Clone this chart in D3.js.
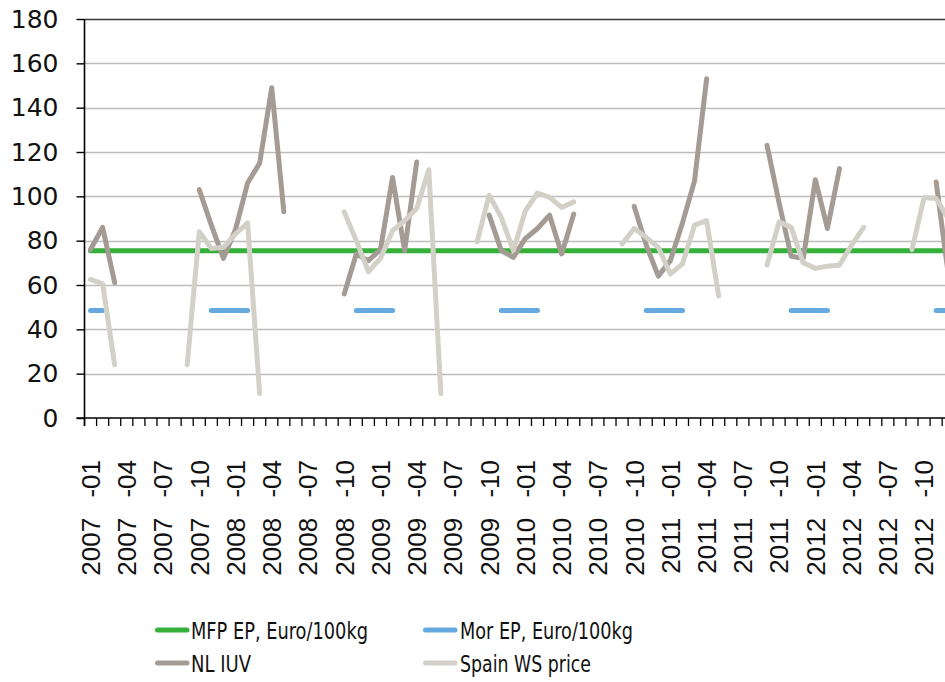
<!DOCTYPE html>
<html>
<head>
<meta charset="utf-8">
<script src="https://cdn.jsdelivr.net/npm/d3@7/dist/d3.min.js"></script>
<style>
  html, body { margin: 0; padding: 0; background: #fff; overflow: hidden; }
  svg { display: block; }
</style>
</head>
<body>
<div id="chart"></div>
<script>
// months 2007-01 .. 2012-12
var years = ['2007', '2008', '2009', '2010', '2011', '2012'];
var months = ['01', '02', '03', '04', '05', '06', '07', '08', '09', '10', '11', '12'];
var categories = [];
years.forEach(function (yr) {
  months.forEach(function (m) { categories.push(yr + '-' + m); });
});

var tickLabels = [
  '2007 -01', '2007 -04', '2007 -07', '2007 -10',
  '2008 -01', '2008 -04', '2008 -07', '2008 -10',
  '2009 -01', '2009 -04', '2009 -07', '2009 -10',
  '2010 -01', '2010 -04', '2010 -07', '2010 -10',
  '2011 -01', '2011 -04', '2011 -07', '2011 -10',
  '2012 -01', '2012 -04', '2012 -07', '2012 -10'
];

var yTicks = [0, 20, 40, 60, 80, 100, 120, 140, 160, 180];

// MFP EP is a flat reference level
var mfpEP = 75.5;

var _ = null;
var morEP = [
  48.5, 48.5, _, _, _, _, _, _, _, _, 48.5, 48.5,
  48.5, 48.5, _, _, _, _, _, _, _, _, 48.5, 48.5,
  48.5, 48.5, _, _, _, _, _, _, _, _, 48.5, 48.5,
  48.5, 48.5, _, _, _, _, _, _, _, _, 48.5, 48.5,
  48.5, 48.5, _, _, _, _, _, _, _, _, 48.5, 48.5,
  48.5, 48.5, _, _, _, _, _, _, _, _, 48.5, 48.5
];

var nlIUV = [
  76, 86, 61, _, _, _, _, _, _, 103, 87, 72,
  85, 106, 115, 149, 93, _, _, _, _, 56, 74, 71,
  76, 108.5, 75.5, 115.5, _, _, _, _, _, 91.5, 75.5, 72.5,
  81, 85.5, 91.5, 74, 92, _, _, _, _, 95.5, 78, 64,
  71, 88, 107, 153, _, _, _, _, 123, 97, 73, 72,
  107.5, 85.5, 112.5, _, _, _, _, _, _, _, 106.5, 65
];

var spainWS = [
  62.5, 60.5, 24, _, _, _, _, _, 24, 84, 76.5, 77,
  83, 88, 11, _, _, _, _, _, _, 93, 80, 66,
  72, 84.5, 89, 94.5, 112, 11, _, _, 79.5, 100.5, 90.5, 75.5,
  93.5, 101.5, 99.5, 95, 97.5, _, _, _, 78.5, 85.5, 81.5, 77,
  65, 69.5, 87, 89, 55, _, _, _, 69, 88.5, 86, 70,
  67.5, 68.5, 69, 78, 86, _, _, _, 76, 99.5, 99, 90
];

var seriesNames = ['MFP EP, Euro/100kg', 'Mor EP, Euro/100kg', 'NL IUV', 'Spain WS price'];
var seriesColors = ['#36b03a', '#65a9e0', '#a39b94', '#d3d0c8'];

var W = 945, H = 682;
var pLeft = 84.5, pTop = 19, pBottom = 418, step = 12.08;

var svg = d3.select('#chart').append('svg')
  .attr('width', W)
  .attr('height', H);

var x = d3.scaleBand()
  .domain(categories)
  .range([pLeft, pLeft + categories.length * step])
  .paddingInner(0)
  .paddingOuter(0);

var y = d3.scaleLinear()
  .domain([0, 180])
  .range([pBottom, pTop]);

function cx(c) { return x(c) + x.bandwidth() / 2; }

// gridlines
svg.append('g')
  .selectAll('line')
  .data(yTicks.filter(function (d) { return d > 0; }))
  .enter()
  .append('line')
  .attr('x1', pLeft)
  .attr('x2', W)
  .attr('y1', function (d) { return Math.round(y(d)) + 0.5; })
  .attr('y2', function (d) { return Math.round(y(d)) + 0.5; })
  .attr('stroke', function (d) { return d === 180 ? '#3a3a3a' : '#bdbdbd'; })
  .attr('stroke-width', function (d) { return d === 180 ? 1.6 : 1.4; });

// y axis
var yAxis = svg.append('g')
  .attr('transform', 'translate(' + pLeft + ',0)')
  .call(d3.axisLeft(y).tickValues(yTicks).tickSize(8).tickPadding(18));
yAxis.select('.domain').remove();
yAxis.selectAll('.tick line').attr('stroke', '#000').attr('stroke-width', 1.4);
yAxis.selectAll('.tick text')
  .attr('font-family', 'DejaVu Sans, Verdana, sans-serif')
  .attr('font-size', 25)
  .attr('fill', '#111');

svg.append('line')
  .attr('x1', pLeft).attr('x2', pLeft)
  .attr('y1', pTop).attr('y2', pBottom + 8)
  .attr('stroke', '#000').attr('stroke-width', 1.6);

// x axis line and ticks at band edges
svg.append('line')
  .attr('x1', pLeft - 8).attr('x2', W)
  .attr('y1', pBottom).attr('y2', pBottom)
  .attr('stroke', '#000').attr('stroke-width', 1.6);

svg.append('g')
  .selectAll('line')
  .data(categories)
  .enter()
  .append('line')
  .attr('x1', function (d) { return x(d); })
  .attr('x2', function (d) { return x(d); })
  .attr('y1', pBottom)
  .attr('y2', pBottom + 8)
  .attr('stroke', '#000')
  .attr('stroke-width', 1.3);

// rotated month labels every 3 months
var labelCats = categories.filter(function (d, i) { return i % 3 === 0; });
svg.append('g')
  .selectAll('text')
  .data(labelCats)
  .enter()
  .append('text')
  .attr('transform', function (d) {
    return 'translate(' + cx(d) + ',' + (pBottom + 42) + ') rotate(-90)';
  })
  .attr('text-anchor', 'end')
  .attr('dy', '0.36em')
  .attr('font-family', '"Liberation Sans", Arial, sans-serif')
  .attr('font-size', 26)
  .attr('word-spacing', 13)
  .attr('fill', '#111')
  .text(function (d, i) { return tickLabels[i]; });

// series lines
var line = d3.line()
  .defined(function (d) { return d.v != null; })
  .x(function (d) { return cx(d.c); })
  .y(function (d) { return y(d.v); });

function pts(arr) {
  return categories.map(function (c, i) { return { c: c, v: arr[i] }; });
}

var plot = svg.append('g')
  .attr('fill', 'none')
  .attr('stroke-width', 5)
  .attr('stroke-linecap', 'round')
  .attr('stroke-linejoin', 'round');

plot.append('line')
  .attr('x1', cx(categories[0]))
  .attr('x2', cx(categories[categories.length - 1]))
  .attr('y1', y(mfpEP))
  .attr('y2', y(mfpEP))
  .attr('stroke', seriesColors[0]);

[morEP, nlIUV, spainWS].forEach(function (arr, k) {
  plot.append('path')
    .attr('d', line(pts(arr)))
    .attr('stroke', seriesColors[k + 1]);
});

// legend
var legendPos = [
  { lx: 155, tx: 191, ty: 639, w: 177 },
  { lx: 423, tx: 460, ty: 639, w: 173 },
  { lx: 155, tx: 191, ty: 672, w: 60 },
  { lx: 423, tx: 460, ty: 672, w: 131 }
];

var legend = svg.append('g')
  .selectAll('g')
  .data(seriesNames)
  .enter()
  .append('g');

legend.append('line')
  .attr('x1', function (d, i) { return legendPos[i].lx + 2.5; })
  .attr('x2', function (d, i) { return legendPos[i].lx + 32; })
  .attr('y1', function (d, i) { return legendPos[i].ty - 9; })
  .attr('y2', function (d, i) { return legendPos[i].ty - 9; })
  .attr('stroke', function (d, i) { return seriesColors[i]; })
  .attr('stroke-width', 5)
  .attr('stroke-linecap', 'round');

legend.append('text')
  .attr('x', function (d, i) { return legendPos[i].tx; })
  .attr('y', function (d, i) { return legendPos[i].ty; })
  .attr('font-family', '"DejaVu Sans Condensed", "DejaVu Sans", sans-serif')
  .attr('font-stretch', 'condensed')
  .attr('font-size', 23)
  .attr('textLength', function (d, i) { return legendPos[i].w; })
  .attr('lengthAdjust', 'spacingAndGlyphs')
  .attr('fill', '#111')
  .text(function (d) { return d; });
</script>
</body>
</html>
